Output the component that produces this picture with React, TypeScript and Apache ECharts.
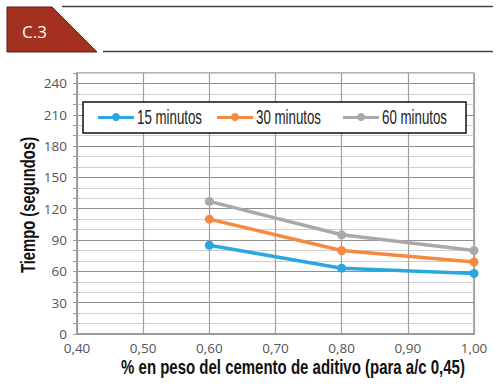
import React, { useEffect, useRef } from "react";
import * as echarts from "echarts";

const xTicks = [0.4, 0.5, 0.6, 0.7, 0.8, 0.9, 1.0];
const xValues = [0.6, 0.8, 1.0];
const series15 = [85, 63, 58];
const series30 = [110, 80, 69];
const series60 = [127, 95, 80];
const seriesNames = ["15 minutos", "30 minutos", "60 minutos"];
const seriesColors = ["#29A8E0", "#F5893F", "#A9A9A9"];
const yLabels = [0, 30, 60, 90, 120, 150, 180, 210, 240];

const sansFont = "'Liberation Sans', Arial, sans-serif";
const labelFont = "'Open Sans', 'Noto Sans', sans-serif";

export default function App() {
  const ref = useRef<HTMLDivElement>(null);
  useEffect(() => {
    if (!ref.current) return;
    const chart = echarts.init(ref.current, null, { renderer: "svg" });
    const allSeries = [series15, series30, series60];
    const legendLefts = [98, 217, 343];
    const legendY = 117.5;
    const legendGraphics: any[] = [];
    seriesNames.forEach((name, i) => {
      const x0 = legendLefts[i];
      legendGraphics.push(
        {
          type: "line",
          z: 11,
          shape: { x1: x0, y1: legendY, x2: x0 + 36, y2: legendY },
          style: { stroke: seriesColors[i], lineWidth: 3 },
        },
        {
          type: "circle",
          z: 12,
          shape: { cx: x0 + 18, cy: legendY - 0.5, r: 4 },
          style: { fill: seriesColors[i] },
        },
        {
          type: "text",
          z: 12,
          x: x0 + 39,
          y: legendY,
          scaleX: 0.665,
          style: {
            text: name,
            x: 0,
            y: 0,
            fill: "#222",
            font: "20px " + sansFont,
            verticalAlign: "middle",
          },
        }
      );
    });
    chart.setOption({
      animation: false,
      grid: {
        left: 77,
        right: 24,
        top: 73,
        bottom: 50,
        show: true,
        borderColor: "#9a9a9a",
        borderWidth: 1.5,
        backgroundColor: "transparent",
      },
      xAxis: {
        type: "value",
        min: xTicks[0],
        max: xTicks[xTicks.length - 1],
        interval: 0.1,
        axisLine: { show: true, lineStyle: { color: "#9a9a9a", width: 1.5 } },
        axisTick: { show: false },
        axisLabel: {
          color: "#555",
          fontFamily: labelFont,
          fontSize: 13.5,
          margin: 7,
          formatter: (v: number) => v.toFixed(2).replace(".", ","),
        },
        splitLine: { show: true, lineStyle: { color: "#a0a0a0", width: 1.2 } },
      },
      yAxis: {
        type: "value",
        min: 0,
        max: 250,
        interval: 10,
        axisLine: { show: true, lineStyle: { color: "#9a9a9a", width: 1.5 } },
        axisTick: { show: true, length: 4, lineStyle: { color: "#9a9a9a" } },
        axisLabel: {
          color: "#555",
          fontFamily: labelFont,
          fontSize: 13.5,
          margin: 10,
          interval: 0,
          formatter: (v: number) => (yLabels.indexOf(v) >= 0 ? String(v) : ""),
        },
        splitLine: {
          show: true,
          lineStyle: { color: ["#8f8f8f", "#cfcfcf", "#cfcfcf"], width: 1.2 },
        },
      },
      graphic: [
        {
          type: "rect",
          z: 10,
          shape: { x: 83, y: 102, width: 383, height: 31 },
          style: { fill: "#fff", stroke: "#111", lineWidth: 1.5 },
        },
        ...legendGraphics,
        {
          type: "polygon",
          shape: { points: [[7, 7], [52, 7], [97, 52], [7, 52]] },
          style: { fill: "#A4301F", stroke: "#5a1a12", lineWidth: 1 },
        },
        {
          type: "text",
          style: {
            text: "C.3",
            x: 22,
            y: 31,
            fill: "#fff",
            font: "17px 'Open Sans', sans-serif",
            verticalAlign: "middle",
          },
        },
        {
          type: "line",
          shape: { x1: 62, y1: 6.5, x2: 493, y2: 6.5 },
          style: { stroke: "#444", lineWidth: 1.5 },
        },
        {
          type: "line",
          shape: { x1: 103, y1: 51.5, x2: 493, y2: 51.5 },
          style: { stroke: "#444", lineWidth: 1.5 },
        },
        {
          type: "text",
          x: 293,
          y: 367,
          scaleX: 0.75,
          style: {
            text: "% en peso del cemento de aditivo (para a/c 0,45)",
            x: 0,
            y: 0,
            fill: "#111",
            font: "bold 20px " + sansFont,
            align: "center",
            verticalAlign: "middle",
          },
        },
        {
          type: "text",
          rotation: Math.PI / 2,
          x: 28,
          y: 205,
          scaleX: 0.74,
          style: {
            text: "Tiempo (segundos)",
            x: 0,
            y: 0,
            fill: "#111",
            font: "bold 20px " + sansFont,
            align: "center",
            verticalAlign: "middle",
          },
        },
      ],
      series: allSeries.map((vals, i) => ({
        name: seriesNames[i],
        type: "line",
        data: xValues.map((x, j) => [x, vals[j]]),
        color: seriesColors[i],
        symbol: "circle",
        symbolSize: 9,
        lineStyle: { width: 3.5, color: seriesColors[i] },
        itemStyle: { color: seriesColors[i] },
        z: 3,
      })),
    });
    return () => chart.dispose();
  }, []);
  return <div ref={ref} style={{ width: 498, height: 384, position: "absolute", left: 0, top: 0 }} />;
}
